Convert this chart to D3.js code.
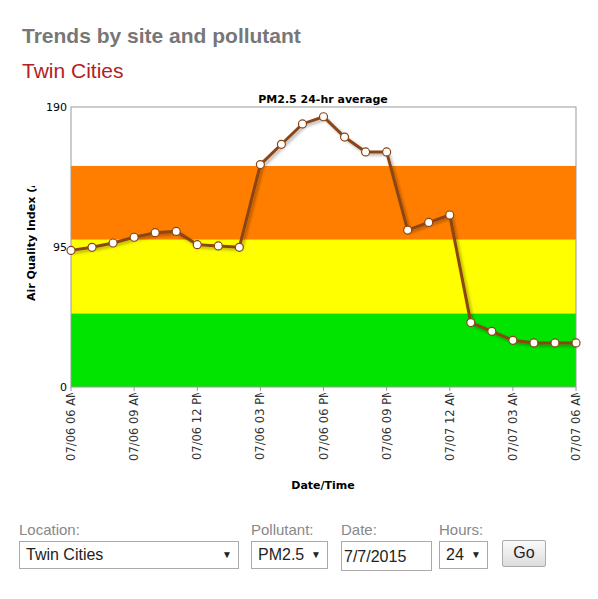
<!DOCTYPE html>
<html><head><meta charset="utf-8">
<script src="https://cdn.jsdelivr.net/npm/d3@7"></script>
<style>
body{margin:0;font-family:Arial,"Liberation Sans",sans-serif;background:#fff}
.lbl{position:absolute;top:521px;color:#888;font-size:15px}
.ctl{position:absolute;top:541px;height:28px;box-sizing:border-box;border:1px solid #aaa;background:#fff;font-size:16px;font-family:Arial,"Liberation Sans",sans-serif;padding:0 6px;line-height:26px;color:#222}
.ctl .arr{position:absolute;right:6px;top:0;font-size:10px}
</style></head><body>
<svg id="c" width="598" height="510" style="position:absolute;left:0;top:0"></svg>
<div class="lbl" style="left:19px">Location:</div>
<div class="lbl" style="left:251px">Pollutant:</div>
<div class="lbl" style="left:341px">Date:</div>
<div class="lbl" style="left:439px">Hours:</div>
<div class="ctl" style="left:19px;width:220px">Twin Cities<span class="arr">▼</span></div>
<div class="ctl" style="left:251px;width:77px">PM2.5<span class="arr">▼</span></div>
<div class="ctl" style="left:341px;width:91px;height:30px;line-height:30px;padding:0 2px">7/7/2015</div>
<div class="ctl" style="left:439px;width:49px">24<span class="arr">▼</span></div>
<div class="ctl" style="left:502px;top:540px;width:44px;height:27px;line-height:24px;text-align:center;background:linear-gradient(#fafafa,#ddd);border-radius:2px">Go</div>
<script>
const values=[92.7,94.8,97.7,101.6,104.7,105.6,96.6,95.7,94.8,150.9,164.7,178.5,183.4,169.6,159.5,159.5,106.5,111.7,116.7,43.7,37.8,31.7,29.9,29.9,29.9];
const tickLabels=["07/06 06 AM","07/06 09 AM","07/06 12 PM","07/06 03 PM","07/06 06 PM","07/06 09 PM","07/07 12 AM","07/07 03 AM","07/07 06 AM"];
const yTicks=[0,95,190];
const bands=[{lo:0,hi:50,c:"#00e400"},{lo:50,hi:100,c:"#ffff00"},{lo:100,hi:150,c:"#ff7e00"}];

const svg=d3.select("#c");
const L=71,R=576,T=107,B=387;
const x=d3.scaleLinear().domain([0,values.length-1]).range([L,R]);
const y=d3.scaleLinear().domain([0,190]).range([B,T]);
svg.append("text").attr("x",22).attr("y",43).attr("fill","#777").attr("font-size",21).attr("font-weight","bold").text("Trends by site and pollutant");
svg.append("text").attr("x",22).attr("y",78).attr("fill","#b22222").attr("font-size",21).text("Twin Cities");
svg.append("text").attr("x",323).attr("y",103).attr("text-anchor","middle").attr("font-size",11).attr("font-weight","bold").attr("font-family","DejaVu Sans").text("PM2.5 24-hr average");
svg.selectAll(".band").data(bands).enter().append("rect").attr("x",L).attr("width",R-L).attr("y",d=>y(d.hi)).attr("height",d=>y(d.lo)-y(d.hi)).attr("fill",d=>d.c);
svg.append("rect").attr("x",L).attr("y",T).attr("width",R-L).attr("height",B-T).attr("fill","none").attr("stroke","#999");
yTicks.forEach(t=>svg.append("text").attr("x",L-4).attr("y",y(t)+4).attr("text-anchor","end").attr("font-size",11).attr("font-family","DejaVu Sans").text(t));
const defs=svg.append("defs");
defs.append("clipPath").attr("id","xc").append("rect").attr("x",0).attr("y",393).attr("width",598).attr("height",100);
defs.append("clipPath").attr("id","yc").append("rect").attr("x",0).attr("y",186).attr("width",60).attr("height",200);
const f=defs.append("filter").attr("id","sh").attr("x","-10%").attr("y","-10%").attr("width","130%").attr("height","130%");
f.append("feDropShadow").attr("dx",2).attr("dy",2).attr("stdDeviation",1.5).attr("flood-color","#000").attr("flood-opacity",0.3);
const xg=svg.append("g").attr("clip-path","url(#xc)");
tickLabels.forEach((t,i)=>{const xx=x(i*3);
  svg.append("line").attr("x1",xx).attr("x2",xx).attr("y1",B).attr("y2",B+4).attr("stroke","#999");
  xg.append("text").attr("transform",`translate(${xx+4},${388}) rotate(-90)`).attr("text-anchor","end").attr("font-size",11.5).attr("font-family","DejaVu Sans").attr("fill","#333").text(t);});
svg.append("g").attr("clip-path","url(#yc)").append("text").attr("transform",`translate(35,${186}) rotate(-90)`).attr("text-anchor","start").attr("font-size",11).attr("font-weight","bold").attr("font-family","DejaVu Sans").text("Air Quality Index (AQI)").attr("transform","translate(35,301) rotate(-90)");
svg.append("text").attr("x",323).attr("y",489).attr("text-anchor","middle").attr("font-size",11).attr("font-weight","bold").attr("font-family","DejaVu Sans").text("Date/Time");
const line=d3.line().x((d,i)=>x(i)).y(d=>y(d));
svg.append("path").datum(values).attr("d",line).attr("fill","none").attr("stroke","#8b4513").attr("stroke-width",3).attr("filter","url(#sh)");
svg.selectAll(".pt").data(values).enter().append("circle").attr("cx",(d,i)=>x(i)).attr("cy",d=>y(d)).attr("r",4).attr("fill","#fff").attr("stroke","#8b4513").attr("stroke-width",1.2);
</script></body></html>
